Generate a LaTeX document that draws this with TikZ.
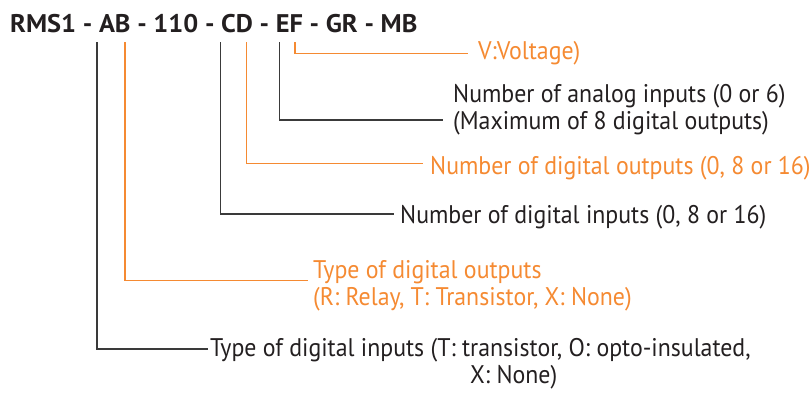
\documentclass[tikz,border=0pt]{standalone}
\usepackage{fontspec}
\setmainfont{PT Sans}
\usepackage{graphicx}
\definecolor{orng}{HTML}{F58A32}
\definecolor{ink}{HTML}{231F20}
\definecolor{wire}{HTML}{3A3A3A}
\newcommand\sqz[1]{\scalebox{0.935}[1]{#1}}
\newcommand\sqt[1]{\scalebox{1.035}[1]{#1}}
\begin{document}
\begin{tikzpicture}[x=1pt,y=-1pt,
  lbl/.style={anchor=base west, inner sep=0pt, font=\fontsize{25.5}{27}\selectfont},
  olbl/.style={lbl, text=orng},
  klbl/.style={lbl, text=ink},
  oline/.style={draw=orng, line width=1.3pt},
  kline/.style={draw=wire, line width=1.3pt}]
\useasboundingbox (0,0) rectangle (811,392);
\node[anchor=base west, inner sep=0pt, text=ink, font=\fontsize{25.5}{27}\selectfont\bfseries] (title) at (10,32)
  {\sqt{RMS1 - AB - 110 - CD - EF - GR - MB}};
% tops of the connectors
\coordinate (tA) at (97,42);
\coordinate (tB) at (125,42);
\coordinate (tC) at (220.5,42);
\coordinate (tD) at (246.7,42);
\coordinate (tE) at (279.3,42);
\coordinate (tF) at (295,42);
% ends of the connectors
\coordinate (eF) at (468,53.3);
\coordinate (eE) at (443,120);
\coordinate (eD) at (423,163.3);
\coordinate (eC) at (394,214);
\coordinate (eB) at (308,280.7);
\coordinate (eA) at (208,349);
% labels
\node[olbl] (lF) at (478,59) {\sqz{V:Voltage)}};
\node[klbl] (lE1) at (453,102) {\sqz{Number of analog inputs (0 or 6)}};
\node[klbl] (lE2) at (453,129) {\sqz{(Maximum of 8 digital outputs)}};
\node[olbl] (lD) at (430,174) {\sqz{Number of digital outputs (0, 8 or 16)}};
\node[klbl] (lC) at (400,223) {\sqz{Number of digital inputs (0, 8 or 16)}};
\node[olbl] (lB1) at (313,278) {\sqz{Type of digital outputs}};
\node[olbl] (lB2) at (313,305) {\sqz{(R: Relay, T: Transistor, X: None)}};
\node[klbl] (lA1) at (210,356) {\sqz{Type of digital inputs (T: transistor, O: opto-insulated,}};
\node[klbl] (lA2) at (470,383) {\sqz{X: None)}};
% connectors
\draw[kline] (tA) |- (eA);
\draw[oline] (tB) |- (eB);
\draw[kline] (tC) |- (eC);
\draw[oline] (tD) |- (eD);
\draw[kline] (tE) |- (eE);
\draw[oline] (tF) |- (eF);
\end{tikzpicture}
\end{document}
